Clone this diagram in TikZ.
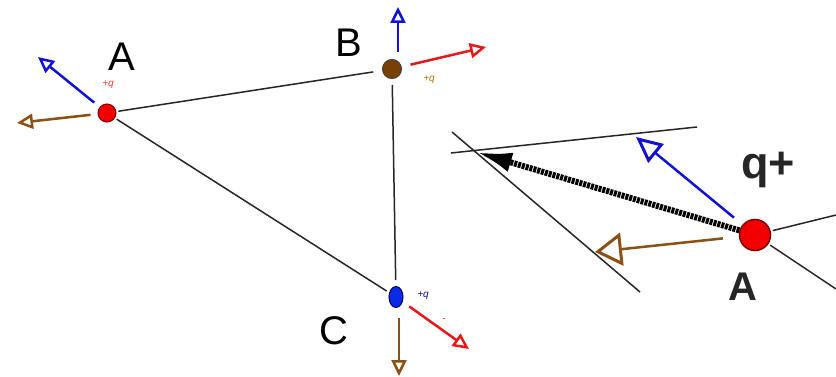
\documentclass[tikz,border=0pt]{standalone}
\usepackage{fontspec}
\setmainfont{Liberation Sans}
\usetikzlibrary{arrows.meta, positioning, calc, shapes.geometric}
\definecolor{azulcampo}{HTML}{1212D4}
\definecolor{rojocampo}{HTML}{E81818}
\definecolor{cafecampo}{HTML}{8C5014}
\definecolor{rojocarga}{HTML}{F20000}
\definecolor{cafecarga}{HTML}{7A3F05}
\definecolor{azulcarga}{HTML}{0A2AE8}
\colorlet{colLado}{black!85}
\tikzset{
  cargaBase/.style={circle, draw=black!75, line width=1pt, inner sep=0pt,
    minimum size=18pt},
  cargaA/.style={cargaBase, fill=rojocarga, draw=red!50!black},
  cargaB/.style={cargaBase, fill=cafecarga, minimum size=19pt},
  cargaC/.style={cargaBase, ellipse, fill=azulcarga, draw=blue!40!black,
    minimum width=14pt, minimum height=21pt},
  lado/.style={colLado, line width=1.5pt},
  flechaBase/.style={line width=2.5pt, shorten <=7pt,
    -{Triangle[open, length=16pt, width=15pt, line width=2.5pt]}},
  flechaAzul/.style={flechaBase, azulcampo},
  flechaRoja/.style={flechaBase, rojocampo},
  flechaCafe/.style={flechaBase, cafecampo},
  etiquetaVertice/.style={font=\fontsize{40}{40}\selectfont, inner sep=0pt},
  etiquetaCarga/.style={font=\fontsize{10}{10}\selectfont\itshape, inner sep=1pt},
  etiquetaGrande/.style={font=\fontsize{40}{40}\selectfont\bfseries, text=black!85,
    inner sep=0pt},
}
\begin{document}
\begin{tikzpicture}[x=1pt, y=-1pt]
  \useasboundingbox (0,0) rectangle (836,377);
  % Triangulo
  \node[cargaA] (A) at (107,113) {};
  \node[cargaB] (B) at (392,69) {};
  \node[cargaC] (C) at (396,297) {};
  \draw[lado, shorten <=2pt, shorten >=9pt] (A) -- (B);
  \draw[lado, shorten <=2pt, shorten >=3pt] (A) -- (C);
  \draw[lado, shorten <=6pt, shorten >=6pt] (B) -- (C);

  \node[etiquetaVertice] (tA) at (122,57) {A};
  \node[etiquetaVertice] (tB) at (349,43) {B};
  \node[etiquetaVertice] (tC) at (334,331) {C};
  \node[etiquetaCarga, text=red!70!pink] (qA) at (108,85) {+q};
  \node[etiquetaCarga, text=cafecampo!80!yellow] (qB) at (429,80) {+q};
  \node[etiquetaCarga, text=azulcampo!70!black] (qC) at (423,296) {+q};
  \node[etiquetaCarga, text=rojocampo] (mC) at (444,320) {-};

  % Campos en cada carga
  \coordinate (pA1) at (38,57);
  \coordinate (pA2) at (17,123);
  \coordinate (pB1) at (398,7);
  \coordinate (pB2) at (486,47);
  \coordinate (pC1) at (469,349);
  \coordinate (pC2) at (399,376);
  \draw[flechaAzul] (A) -- (pA1);
  \draw[flechaCafe] (A) -- (pA2);
  \draw[flechaAzul] ([xshift=6pt]B.north) -- (pB1);
  \draw[flechaRoja, shorten <=9pt] (B) -- (pB2);
  \draw[flechaRoja, shorten <=8pt] (C) -- (pC1);
  \draw[flechaCafe, shorten <=10pt] ([xshift=3pt]C.south) -- (pC2);

  % Ampliacion en A
  \node[cargaA, minimum size=31pt, line width=1.5pt] (R) at (755,235) {};
  \coordinate (s1) at (451,153);
  \coordinate (s2) at (697,127);
  \coordinate (s3) at (452,132);
  \coordinate (s4) at (640,292);
  \coordinate (vR) at (476,152);
  \coordinate (pR1) at (636,137);
  \coordinate (pR2) at (595,252);
  \coordinate (lR1) at (836,215);
  \coordinate (lR2) at (836,289);
  \draw[lado] (s1) -- (s2);
  \draw[lado] (s3) -- (s4);
  \draw[lado, shorten <=2pt] (R) -- (lR1);
  \draw[lado, shorten <=2pt] (R) -- (lR2);
  \draw[line width=6pt, black, dash pattern=on 3pt off 1pt,
    -{Latex[length=36pt, width=20pt]}] (R) -- (vR);
  \draw[flechaAzul, shorten <=11pt,
    -{Triangle[open, length=26pt, width=24pt, line width=3pt]}] (R) -- (pR1);
  \draw[flechaCafe, shorten <=16pt,
    -{Triangle[open, length=27pt, width=33pt, line width=3pt]}] (R) -- (pR2);
  \node[etiquetaGrande, font=\fontsize{45}{45}\selectfont\bfseries] (tq) at (768,170) {q+};
  \node[etiquetaGrande] (tR) at (743,287) {A};
\end{tikzpicture}
\end{document}
